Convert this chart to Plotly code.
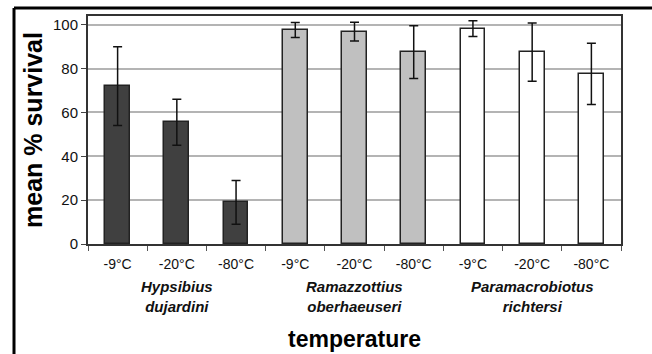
import plotly.graph_objects as go

# ---- data ----
temps = ["-9°C", "-20°C", "-80°C"]
species = ["Hypsibius<br>dujardini", "Ramazzottius<br>oberhaeuseri", "Paramacrobiotus<br>richtersi"]
survival_hd = [72, 55.5, 19]
error_hd = [18, 10.5, 10]
survival_ro = [97.6, 96.9, 87.5]
error_ro = [3.4, 4.3, 12]
survival_pr = [98.2, 87.5, 77.6]
error_pr = [3.6, 13.3, 14]
y_ticks = [0, 20, 40, 60, 80, 100]

W, H = 652, 354
ML, MR, MT, MB = 88, 31, 16, 110

fill_colors = ["#404040", "#c0c0c0", "#ffffff"]
series = [(survival_hd, error_hd), (survival_ro, error_ro), (survival_pr, error_pr)]

fig = go.Figure()
x_all, text_all = [], []
for g, (vals, errs) in enumerate(series):
    xs = [g * 3 + i for i in range(len(vals))]
    x_all += xs
    text_all += temps
    fig.add_trace(go.Bar(
        x=xs, y=vals, width=0.42,
        marker=dict(color=fill_colors[g], line=dict(color="#222222", width=1.5)),
        error_y=dict(type="data", array=errs, visible=True, color="#111111",
                     thickness=1.5, width=4.5),
        showlegend=False,
    ))

n_cat = len(x_all)
boundaries = [i - 0.5 for i in range(n_cat + 1)]
# helper trace so the overlaid label axis is drawn
fig.add_trace(go.Scatter(x=x_all, y=[0] * n_cat, xaxis="x2", yaxis="y", mode="markers",
                         marker=dict(opacity=0, size=1), hoverinfo="skip", showlegend=False))

for g, name in enumerate(species):
    fig.add_annotation(
        x=g * 3 + 1, y=0, xref="x", yref="paper",
        yshift=-32, yanchor="top",
        text="<b><i>" + name + "</i></b>", showarrow=False,
        font=dict(family="Liberation Sans, Arial", size=15, color="#111111"),
    )

fig.add_annotation(
    x=0.5, y=0, xref="paper", yref="paper", yshift=-80, yanchor="top",
    text="<b>temperature</b>", showarrow=False,
    font=dict(family="Liberation Sans, Arial", size=23, color="#000000"),
)

pw = W - ML - MR
ph = H - MT - MB
x_left = (14 - ML) / pw
y_top = (H - MB - 8) / ph
fig.add_shape(type="line", xref="paper", yref="paper", x0=x_left, x1=x_left,
              y0=(H - MB - H - 5) / ph, y1=y_top, line=dict(color="black", width=3))
fig.add_shape(type="line", xref="paper", yref="paper", x0=x_left, x1=(W + 5 - ML) / pw,
              y0=y_top, y1=y_top, line=dict(color="black", width=3))

fig.update_layout(
    width=W, height=H,
    margin=dict(l=ML, r=MR, t=MT, b=MB),
    paper_bgcolor="white", plot_bgcolor="white",
    bargap=0,
    font=dict(family="Liberation Sans, Arial", size=14, color="#111111"),
    xaxis=dict(
        range=[-0.5, 8.5], tickmode="array", tickvals=boundaries,
        ticktext=[""] * len(boundaries),
        ticks="outside", ticklen=5, tickwidth=1, tickcolor="#555555",
        showline=True, linecolor="#333333", linewidth=2, mirror=True,
        showgrid=False, zeroline=False,
    ),
    xaxis2=dict(
        overlaying="x", anchor="y", side="bottom", range=[-0.5, 8.5],
        tickmode="array", tickvals=x_all, ticktext=text_all,
        ticks="", ticklabelstandoff=10, tickfont=dict(size=14),
        showline=False, showgrid=False, zeroline=False,
    ),
)
fig.update_yaxes(
    range=[0, 104], tickvals=y_ticks,
    ticks="outside", ticklen=5, tickcolor="#444444",
    showline=True, linecolor="#333333", linewidth=2, mirror=True,
    showgrid=True, gridcolor="#b4b4b4", gridwidth=1.5, zeroline=False,
    tickfont=dict(size=15),
    title=dict(text="<b>mean % survival</b>", standoff=3,
               font=dict(family="Liberation Sans, Arial", size=25, color="#000000")),
)

fig.write_html("out.html")
